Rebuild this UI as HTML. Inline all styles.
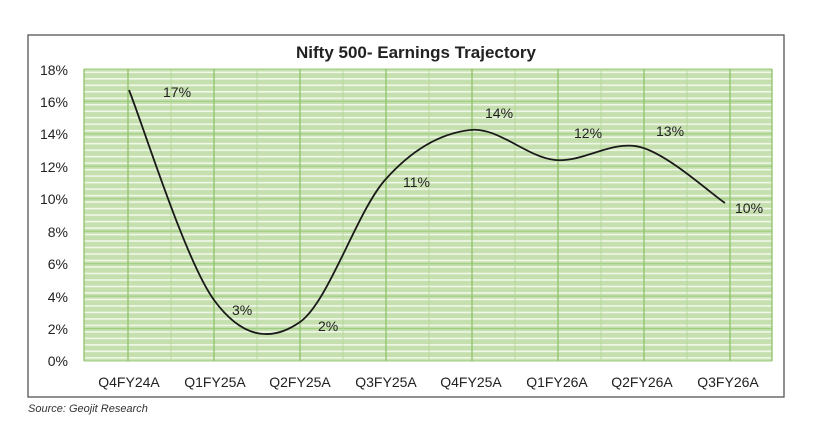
<!DOCTYPE html>
<html><head><meta charset="utf-8"><style>
body{margin:0;background:#fff;}
svg{display:block;font-family:"Liberation Sans",sans-serif;}
</style></head><body>
<svg width="813" height="429" viewBox="0 0 813 429">
<defs>
<pattern id="st" x="0" y="69" width="10" height="6.49" patternUnits="userSpaceOnUse">
<rect width="10" height="6.49" fill="#c5dfae"/>
<rect y="2.5" width="10" height="1.6" fill="#f1f8ea"/>
</pattern>
</defs>
<rect x="28" y="35" width="756" height="362" fill="#fff" stroke="#555" stroke-width="1.3"/>
<text x="416" y="58" text-anchor="middle" font-size="17" font-weight="bold" fill="#222">Nifty 500- Earnings Trajectory</text>
<rect x="84" y="69" width="688" height="292" fill="url(#st)"/>
<g stroke="#9bcb7b" stroke-width="1">
<line x1="84" y1="69" x2="772" y2="69"/><line x1="84" y1="101.4" x2="772" y2="101.4"/><line x1="84" y1="133.9" x2="772" y2="133.9"/><line x1="84" y1="166.3" x2="772" y2="166.3"/><line x1="84" y1="198.8" x2="772" y2="198.8"/><line x1="84" y1="231.2" x2="772" y2="231.2"/><line x1="84" y1="263.7" x2="772" y2="263.7"/><line x1="84" y1="296.1" x2="772" y2="296.1"/><line x1="84" y1="328.6" x2="772" y2="328.6"/><line x1="84" y1="361" x2="772" y2="361"/>
</g>
<g stroke="#8ec46a" stroke-width="1.3">
<line x1="84" y1="69" x2="84" y2="361"/><line x1="128" y1="69" x2="128" y2="361"/><line x1="214" y1="69" x2="214" y2="361"/><line x1="300" y1="69" x2="300" y2="361"/><line x1="386" y1="69" x2="386" y2="361"/><line x1="472" y1="69" x2="472" y2="361"/><line x1="558" y1="69" x2="558" y2="361"/><line x1="644" y1="69" x2="644" y2="361"/><line x1="730" y1="69" x2="730" y2="361"/><line x1="772" y1="69" x2="772" y2="361"/>
</g>
<g stroke="#b0d696" stroke-width="0.8">
<line x1="171" y1="69" x2="171" y2="361"/><line x1="257" y1="69" x2="257" y2="361"/><line x1="343" y1="69" x2="343" y2="361"/><line x1="429" y1="69" x2="429" y2="361"/><line x1="515" y1="69" x2="515" y2="361"/><line x1="601" y1="69" x2="601" y2="361"/><line x1="687" y1="69" x2="687" y2="361"/>
</g>
<path d="M129,90 C143,125 185.5,261 214,300 C242.5,339 271.5,342 300,322 C328.5,302 356.7,212 385,180 C413.3,148 441.7,133.3 470,130 C498.3,126.7 526.7,157.2 555,160 C583.3,162.8 611.7,139.8 640,147 C668.3,154.2 710.8,193.7 725,203" fill="none" stroke="#1a1a1a" stroke-width="1.8"/>
<g font-size="14" fill="#222">
<text x="163" y="97">17%</text><text x="232" y="315">3%</text><text x="318" y="331">2%</text><text x="403" y="187">11%</text><text x="485" y="118">14%</text><text x="574" y="138">12%</text><text x="656" y="136">13%</text><text x="735" y="213">10%</text>
</g>
<g font-size="14" fill="#222" text-anchor="end">
<text x="68" y="75">18%</text><text x="68" y="107">16%</text><text x="68" y="139">14%</text><text x="68" y="172">12%</text><text x="68" y="204">10%</text><text x="68" y="237">8%</text><text x="68" y="269">6%</text><text x="68" y="302">4%</text><text x="68" y="334">2%</text><text x="68" y="366">0%</text>
</g>
<g font-size="14" fill="#222" text-anchor="middle">
<text x="129" y="387">Q4FY24A</text><text x="215" y="387">Q1FY25A</text><text x="300" y="387">Q2FY25A</text><text x="386" y="387">Q3FY25A</text><text x="471" y="387">Q4FY25A</text><text x="557" y="387">Q1FY26A</text><text x="642" y="387">Q2FY26A</text><text x="728" y="387">Q3FY26A</text>
</g>
<text x="28" y="412" font-size="11" font-style="italic" fill="#333">Source: Geojit Research</text>
</svg>
</body></html>
